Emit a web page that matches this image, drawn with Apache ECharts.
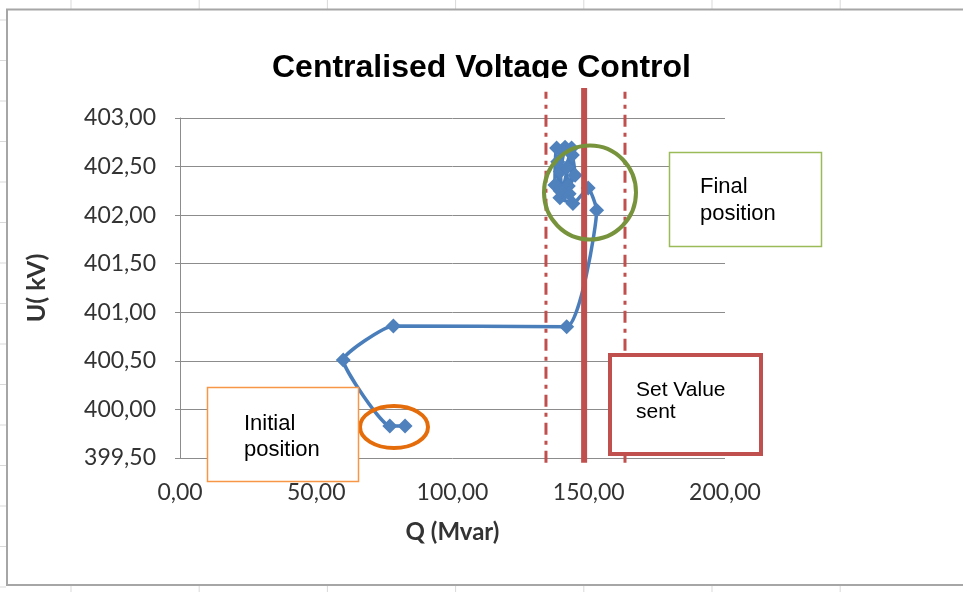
<!DOCTYPE html>
<html><head><meta charset="utf-8">
<script src="https://cdn.jsdelivr.net/npm/echarts@6/dist/echarts.min.js"></script>
<style>html,body{margin:0;padding:0;background:#fff}#c{width:963px;height:592px}</style>
</head><body><div id="c"></div>
<script>
// ---- data ----
const qValues = [82.6, 77.0, 59.9, 78.3, 141.9, 152.9, 149.8, 144.2, 139.4, 137.6, 138.2, 141.3, 139.6, 140.2, 143.7, 141.9, 142.5, 145.0, 144.0, 142.8, 139.5, 138.6, 140.0];
const uValues = [399.83, 399.83, 400.51, 400.86, 400.85, 402.05, 402.28, 402.12, 402.18, 402.31, 402.69, 402.70, 402.45, 402.25, 402.69, 402.49, 402.30, 402.41, 402.62, 402.22, 402.25, 402.55, 402.66];
const setValueQ = 148.3;
const limitQ = [134.3, 163.3];
const refSpanU = [399.45, 403.31];
const xRange = [0, 200, 50];
const yRange = [399.5, 403, 0.5];
const titleText = 'Centralised Voltage Control';
const xName = 'Q (Mvar)';
const yName = 'U( kV)';

const fmt = v => v.toFixed(2).replace('.', ',');
const chart = echarts.init(document.getElementById('c'), null, {renderer: 'canvas'});
const pts = qValues.map((q, i) => [q, uValues[i]]);
const labelFont = {fontFamily: 'Lato', fontSize: 23, color: '#333333'};

const deco = [];
// spreadsheet cell lines outside the chart frame
for (let i = 0; i < 7; i++) {
  const x = 71 + i * 128.2;
  deco.push({type: 'line', shape: {x1: x, y1: 0, x2: x, y2: 9}, style: {stroke: '#d9d9d9', lineWidth: 1}, silent: true});
  deco.push({type: 'line', shape: {x1: x, y1: 586, x2: x, y2: 592}, style: {stroke: '#d9d9d9', lineWidth: 1}, silent: true});
}
for (let i = 0; i < 15; i++) {
  const y = 20 + i * 40.5;
  deco.push({type: 'line', shape: {x1: 0, y1: y, x2: 6, y2: y}, style: {stroke: '#d9d9d9', lineWidth: 1}, silent: true});
}
deco.push({type: 'rect', shape: {x: 7, y: 9.5, width: 970, height: 575.5}, style: {fill: null, stroke: '#a6a6a6', lineWidth: 2}, silent: true, z: 1});
// clip of title bottom
deco.push({type: 'rect', shape: {x: 255, y: 78, width: 450, height: 9}, style: {fill: '#fff'}, silent: true, z: 50});
// ellipses
deco.push({type: 'ellipse', shape: {cx: 394, cy: 427, rx: 34, ry: 21}, style: {fill: null, stroke: '#E46C0A', lineWidth: 4}, z: 60, silent: true});
deco.push({type: 'ellipse', shape: {cx: 590, cy: 192.5, rx: 46, ry: 47}, style: {fill: null, stroke: '#77933C', lineWidth: 4}, z: 60, silent: true});
// boxes
deco.push({type: 'rect', shape: {x: 669.5, y: 152.5, width: 152, height: 94}, style: {fill: '#fff', stroke: '#9BBB59', lineWidth: 1.5}, z: 70, silent: true});
deco.push({type: 'text', x: 700, y: 173, style: {text: 'Final\nposition', font: '22px "Liberation Sans", Arial, sans-serif', fill: '#000', lineHeight: 27}, z: 71, silent: true});
deco.push({type: 'rect', shape: {x: 610, y: 355, width: 151, height: 99}, style: {fill: '#fff', stroke: '#C0504D', lineWidth: 4}, z: 70, silent: true});
deco.push({type: 'text', x: 636, y: 379, style: {text: 'Set Value\nsent', font: '21px "Liberation Sans", Arial, sans-serif', fill: '#000', lineHeight: 22}, z: 71, silent: true});
deco.push({type: 'rect', shape: {x: 207.5, y: 387.5, width: 151, height: 94}, style: {fill: '#fff', stroke: '#F79646', lineWidth: 1.5}, z: 70, silent: true});
deco.push({type: 'text', x: 244, y: 411, style: {text: 'Initial\nposition', font: '22px "Liberation Sans", Arial, sans-serif', fill: '#000', lineHeight: 26}, z: 71, silent: true});

chart.setOption({
  animation: false,
  backgroundColor: '#fff',
  title: {
    text: titleText, left: 'center', top: 47,
    textStyle: {fontFamily: '"Liberation Sans", Arial', fontWeight: 'bold', fontSize: 32, color: '#000'}
  },
  grid: {left: 180, right: 238, top: 118, bottom: 134, containLabel: false},
  xAxis: {
    type: 'value', min: xRange[0], max: xRange[1], interval: xRange[2],
    name: xName, nameLocation: 'middle', nameGap: 62,
    nameTextStyle: {fontFamily: 'Lato', fontWeight: 'bold', fontSize: 24, color: '#333333'},
    axisLine: {show: false}, axisTick: {show: false},
    splitLine: {show: false},
    axisLabel: Object.assign({formatter: fmt, margin: 23}, labelFont)
  },
  yAxis: {
    type: 'value', min: yRange[0], max: yRange[1], interval: yRange[2],
    name: yName, nameLocation: 'middle', nameGap: 131,
    nameTextStyle: {fontFamily: 'Lato', fontWeight: 'bold', fontSize: 25, color: '#333333'},
    axisLine: {show: true, lineStyle: {color: '#8c8c8c', width: 1}},
    axisTick: {show: true, inside: false, length: 5, lineStyle: {color: '#8c8c8c'}},
    splitLine: {show: true, lineStyle: {color: '#8c8c8c', width: 1}},
    axisLabel: Object.assign({formatter: fmt, margin: 24}, labelFont)
  },
  series: [
    {
      type: 'line', data: pts, smooth: 0.15, clip: false, z: 3,
      symbol: 'diamond', symbolSize: 15,
      lineStyle: {color: '#4A7EBB', width: 3.5},
      itemStyle: {color: '#4F81BD', borderWidth: 0}
    },
    {
      type: 'line', data: [[setValueQ, refSpanU[0]], [setValueQ, refSpanU[1]]], clip: false, z: 5,
      symbol: 'none', silent: true, lineStyle: {color: '#C0504D', width: 6}
    },
    {
      type: 'line', data: [[limitQ[0], refSpanU[0]], [limitQ[0], refSpanU[1] - 0.04]], clip: false, z: 4,
      symbol: 'none', silent: true, lineStyle: {color: '#C0504D', width: 3, type: [12, 6, 4, 6]}
    },
    {
      type: 'line', data: [[limitQ[1], refSpanU[0]], [limitQ[1], refSpanU[1] - 0.04]], clip: false, z: 4,
      symbol: 'none', silent: true, lineStyle: {color: '#C0504D', width: 3, type: [12, 6, 4, 6]}
    }
  ],
  graphic: deco
});
</script>
</body></html>
